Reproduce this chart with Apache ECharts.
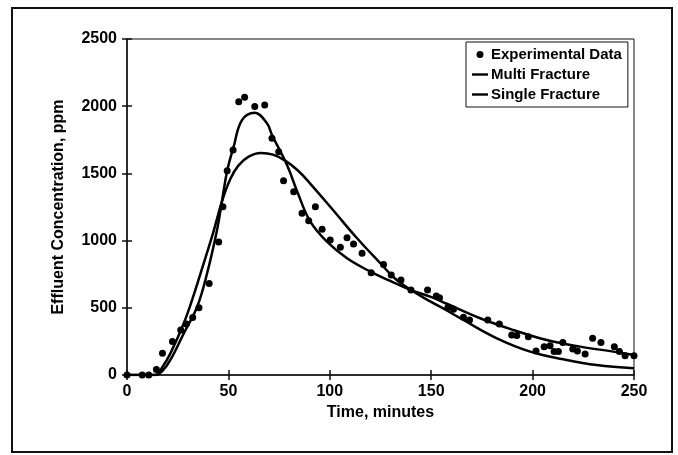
<!DOCTYPE html>
<html>
<head>
<meta charset="utf-8">
<script src="https://cdn.jsdelivr.net/npm/echarts@6/dist/echarts.min.js"></script>
<style>
  html, body { margin: 0; padding: 0; background: #fff; }
  #chart { width: 678px; height: 455px; }
</style>
</head>
<body>
<div id="chart"></div>
<script>
// 实验数据点 [time (min), concentration (ppm)]
var experimental = [
  [0, 0], [7.5, 0], [10.7, 0], [14.5, 40], [17.5, 161], [22.4, 250], [26.5, 335],
  [29.3, 380], [32.4, 427], [35.5, 501], [40.5, 680], [45.2, 990], [47.3, 1252],
  [49.4, 1520], [52.3, 1674], [55.1, 2034], [58.0, 2066], [63.0, 1997], [67.9, 2009],
  [71.5, 1761], [74.8, 1662], [77.2, 1446], [82.2, 1364], [86.3, 1203], [89.6, 1148],
  [92.9, 1252], [96.2, 1084], [100.2, 1004], [105.2, 950], [108.5, 1022], [111.7, 975],
  [115.9, 906], [120.4, 761], [126.5, 823], [130.3, 744], [135.1, 707], [140.0, 632],
  [148.2, 632], [152.5, 588], [154.1, 575], [158.2, 503], [161.0, 489], [165.9, 429],
  [168.9, 409], [177.9, 409], [183.6, 379], [189.7, 298], [192.2, 293], [197.9, 285],
  [201.7, 179], [205.7, 211], [208.6, 218], [210.6, 174], [212.7, 174], [214.9, 241],
  [219.8, 193], [222.1, 179], [225.9, 156], [229.6, 273], [233.7, 241], [240.3, 211],
  [242.8, 174], [245.6, 144], [250.0, 144]
];

// 多裂缝模型曲线
var multiFracture = [
  [0, 0], [14, 0], [17.5, 30], [21.4, 112], [28, 310], [34.6, 508], [39.5, 757],
  [44.4, 1079], [46.9, 1300], [49.4, 1520], [52.6, 1699], [56.7, 1897], [63, 1952],
  [69, 1873], [71.5, 1786], [78.9, 1562], [84.6, 1339], [90.4, 1141], [98.6, 992],
  [108.5, 868], [120, 769], [129.8, 700], [140, 632], [149.5, 583], [157.7, 530],
  [174.1, 422], [190.5, 335], [207, 260], [223.4, 211], [239.8, 174], [250, 149]
];

// 单裂缝模型曲线
var singleFracture = [
  [0, 0], [14, 0], [17.5, 60], [21.4, 161], [28, 385], [33, 600], [38, 840],
  [42.5, 1060], [47, 1300], [51, 1460], [55, 1560], [60, 1625], [66, 1652],
  [72, 1640], [78, 1595], [84, 1525], [90, 1430], [102, 1220], [113, 1025],
  [125, 830], [132, 720], [140, 632], [149.5, 548], [157.7, 480], [165.9, 409],
  [182.4, 273], [198.8, 174], [215.2, 117], [231.6, 74], [250, 50]
];

var xTicks = [0, 250, 50];      // min, max, interval
var yTicks = [0, 2500, 500];

var font = '"Liberation Sans", Arial, sans-serif';
var lineIcon = 'path://M0,0H20V3H0Z';

var myChart = echarts.init(document.getElementById('chart'));

var option = {
  backgroundColor: '#fff',
  animation: false,
  textStyle: { fontFamily: font, color: '#000' },
  grid: {
    left: 127, right: 44, top: 39, bottom: 80,
    show: true,
    borderColor: '#111',
    borderWidth: 1
  },
  graphic: [{
    type: 'rect',
    shape: { x: 12, y: 8, width: 660, height: 444 },
    style: { fill: 'none', stroke: '#111', lineWidth: 2 }
  }],
  legend: {
    orient: 'vertical',
    left: 466,
    top: 42,
    padding: [5, 6, 5, 6],
    itemGap: 5,
    itemWidth: 16,
    itemHeight: 7,
    borderColor: '#111',
    borderWidth: 1,
    backgroundColor: '#fff',
    textStyle: { fontFamily: font, fontSize: 15, fontWeight: 'bold', color: '#000', padding: [0, 0, 0, -2] },
    data: [
      { name: 'Experimental Data', icon: 'circle' },
      { name: 'Multi Fracture', icon: lineIcon },
      { name: 'Single Fracture', icon: lineIcon }
    ]
  },
  xAxis: [{
    type: 'value',
    min: xTicks[0], max: xTicks[1], interval: xTicks[2],
    name: 'Time, minutes',
    nameLocation: 'middle',
    nameGap: 28,
    nameTextStyle: { fontFamily: font, fontSize: 16, fontWeight: 'bold', color: '#000' },
    axisLine: { lineStyle: { color: '#111', width: 1.5 } },
    axisTick: { length: 5, lineStyle: { color: '#111', width: 1.5 } },
    axisLabel: { margin: 9, fontFamily: font, fontSize: 16, fontWeight: 'bold', color: '#000' },
    splitLine: { show: false }
  }, {
    // 内侧刻度
    type: 'value', position: 'bottom',
    min: xTicks[0], max: xTicks[1], interval: xTicks[2],
    axisLine: { show: false },
    axisTick: { inside: true, length: 5, lineStyle: { color: '#111', width: 1.5 } },
    axisLabel: { show: false },
    splitLine: { show: false }
  }],
  yAxis: [{
    type: 'value',
    min: yTicks[0], max: yTicks[1], interval: yTicks[2],
    name: 'Effluent Concentration, ppm',
    nameLocation: 'middle',
    nameGap: 60,
    nameTextStyle: { fontFamily: font, fontSize: 16, fontWeight: 'bold', color: '#000' },
    axisLine: { show: true, lineStyle: { color: '#111', width: 1.5 } },
    axisTick: { show: true, length: 5, lineStyle: { color: '#111', width: 1.5 } },
    axisLabel: {
      margin: 10, fontFamily: font, fontSize: 16, fontWeight: 'bold', color: '#000',
      formatter: function (v) { return String(v); }
    },
    splitLine: { show: false }
  }, {
    type: 'value', position: 'left',
    min: yTicks[0], max: yTicks[1], interval: yTicks[2],
    axisLine: { show: false },
    axisTick: { show: true, inside: true, length: 5, lineStyle: { color: '#111', width: 1.5 } },
    axisLabel: { show: false },
    splitLine: { show: false }
  }],
  series: [
    {
      name: 'Experimental Data',
      type: 'scatter',
      data: experimental,
      symbolSize: 7,
      itemStyle: { color: '#000', opacity: 1 },
      z: 3
    },
    {
      name: 'Multi Fracture',
      type: 'line',
      data: multiFracture,
      smooth: 0.4,
      symbol: 'none',
      lineStyle: { color: '#000', width: 2.5 },
      itemStyle: { color: '#000' }
    },
    {
      name: 'Single Fracture',
      type: 'line',
      data: singleFracture,
      smooth: 0.4,
      symbol: 'none',
      lineStyle: { color: '#000', width: 2.5 },
      itemStyle: { color: '#000' }
    }
  ]
};

myChart.setOption(option);
</script>
</body>
</html>
